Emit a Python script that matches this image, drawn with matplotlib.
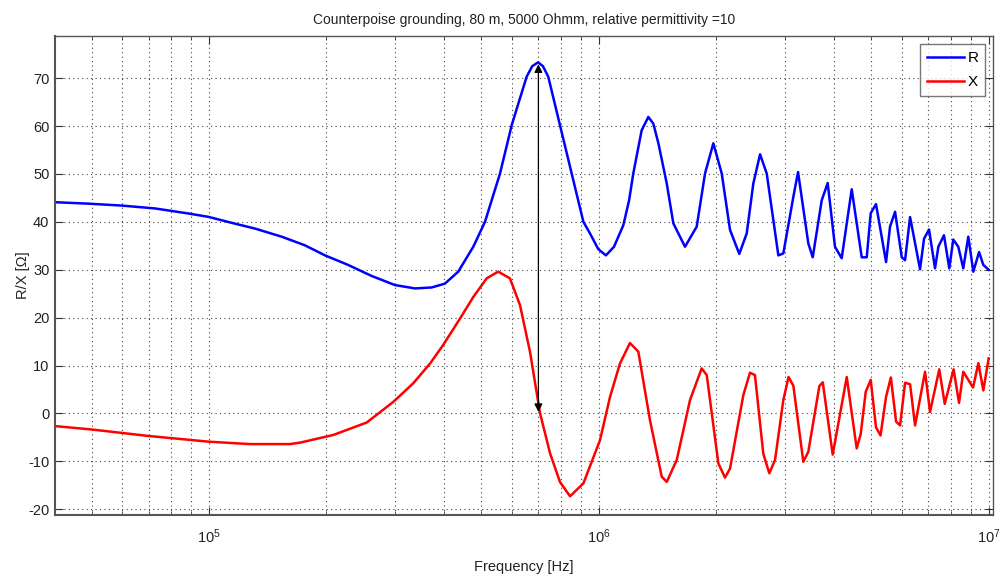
import matplotlib
matplotlib.use("Agg")
import matplotlib.pyplot as plt
from matplotlib.ticker import LogLocator, NullFormatter

plt.rcParams['font.family'] = ['Liberation Sans', 'DejaVu Sans']
plt.rcParams['axes.unicode_minus'] = False

# ---- data ----
r_freq = [4.03e4, 4.90e4, 5.97e4, 7.27e4, 8.85e4, 9.96e4, 1.143e5, 1.312e5, 1.537e5, 1.763e5,
          1.985e5, 2.276e5, 2.615e5, 3.0e5, 3.377e5, 3.727e5, 4.03e5, 4.36e5, 4.765e5, 5.106e5,
          5.58e5, 5.98e5, 6.53e5, 6.75e5, 6.99e5, 7.19e5, 7.42e5, 7.95e5, 8.52e5,
          9.13e5, 9.49e5, 9.97e5, 1.043e6, 1.094e6, 1.156e6, 1.196e6, 1.226e6, 1.288e6, 1.34e6,
          1.38e6, 1.422e6, 1.494e6,
          1.553e6, 1.664e6, 1.783e6, 1.873e6, 1.967e6, 2.067e6, 2.171e6, 2.293e6, 2.396e6, 2.491e6,
          2.592e6, 2.696e6, 2.888e6, 2.974e6, 3.155e6, 3.244e6, 3.447e6, 3.538e6, 3.731e6, 3.865e6,
          4.035e6, 4.198e6, 4.454e6, 4.725e6, 4.867e6, 4.983e6, 5.141e6, 5.456e6, 5.585e6, 5.754e6,
          5.986e6, 6.104e6, 6.287e6, 6.668e6, 6.828e6, 7.032e6, 7.285e6, 7.43e6, 7.68e6, 7.925e6,
          8.114e6, 8.358e6, 8.609e6, 8.867e6, 9.134e6, 9.45e6, 9.69e6, 1.0e7]
r_vals = [44.1, 43.8, 43.4, 42.8, 41.75, 41.05, 39.8, 38.6, 36.9, 35.1,
          33.0, 31.0, 28.7, 26.8, 26.1, 26.3, 27.1, 29.6, 34.8, 40.0,
          50.1, 60.2, 70.3, 72.5, 73.3, 72.5, 70.3, 60.2, 50.1,
          40.0, 37.6, 34.3, 33.0, 34.8, 39.3, 44.5, 50.1, 59.1, 61.9,
          60.5, 56.4, 48.0,
          39.7, 34.8, 39.0, 50.1, 56.4, 50.1, 38.3, 33.3, 37.6, 48.0,
          54.1, 50.1, 33.0, 33.4, 45.2, 50.4, 35.5, 32.6, 44.5, 48.1,
          34.8, 32.4, 46.8, 32.6, 32.6, 41.8, 43.7, 31.6, 39.0, 42.1,
          32.6, 32.0, 41.0, 30.1, 36.5, 38.4, 30.3, 34.8, 37.2, 30.3,
          36.3, 34.8, 30.3, 36.9, 29.6, 33.7, 31.0, 30.0]

x_freq = [4.03e4, 5.0e4, 6.99e4, 1.0e5, 1.274e5, 1.614e5, 1.712e5, 2.084e5, 2.539e5, 2.97e5,
          3.343e5, 3.69e5, 3.99e5, 4.405e5, 4.765e5, 5.157e5, 5.52e5, 5.917e5, 6.28e5, 6.66e5,
          7.07e5, 7.50e5, 7.95e5, 8.44e5, 9.13e5, 1.007e6, 1.069e6, 1.133e6, 1.202e6, 1.263e6,
          1.353e6, 1.45e6, 1.494e6, 1.585e6, 1.714e6, 1.836e6, 1.892e6, 2.026e6, 2.107e6, 2.171e6,
          2.348e6, 2.442e6, 2.515e6, 2.642e6, 2.738e6, 2.832e6, 2.974e6, 3.067e6, 3.155e6, 3.347e6,
          3.447e6, 3.679e6, 3.754e6, 3.981e6, 4.325e6, 4.587e6, 4.697e6, 4.838e6, 4.983e6, 5.141e6,
          5.28e6, 5.456e6, 5.613e6, 5.788e6, 5.927e6, 6.104e6, 6.287e6, 6.475e6, 6.868e6, 7.074e6,
          7.47e6, 7.715e6, 8.13e6, 8.395e6, 8.609e6, 9.12e6, 9.41e6, 9.69e6, 1.0e7]
x_vals = [-2.65, -3.35, -4.7, -5.9, -6.4, -6.4, -6.1, -4.5, -1.9, 2.4,
          6.3, 10.4, 14.3, 19.8, 24.3, 28.2, 29.6, 28.2, 22.6, 12.9,
          0.0, -8.35, -14.3, -17.3, -14.6, -5.6, 3.5, 10.4, 14.7, 12.9,
          -1.4, -13.2, -14.3, -9.7, 2.8, 9.4, 8.0, -10.4, -13.4, -11.5,
          3.8, 8.5, 8.0, -8.4, -12.5, -9.7, 2.8, 7.6, 5.8, -10.1,
          -8.0, 5.7, 6.5, -8.6, 7.6, -7.3, -4.3, 4.5, 7.0, -2.9,
          -4.6, 3.5, 7.5, -1.7, -2.5, 6.4, 6.1, -2.5, 8.7, 0.3,
          9.2, 2.0, 9.2, 2.2, 8.7, 5.4, 10.5, 4.8, 11.5]

arrow_freq = 7.0e5
arrow_top = 72.9
arrow_bottom = 0.3

title = "Counterpoise grounding, 80 m, 5000 Ohmm, relative permittivity =10"
xlabel = "Frequency [Hz]"
ylabel = "R/X [\u03a9]"
yticks = [-20, -10, 0, 10, 20, 30, 40, 50, 60, 70]

fig = plt.figure(figsize=(9.99, 5.77), dpi=100)
ax = fig.add_axes([0.0551, 0.1075, 0.9384, 0.8301])

ax.plot(r_freq, r_vals, color=(0, 0, 1), lw=1.8, label='R')
ax.plot(x_freq, x_vals, color=(1, 0, 0), lw=1.8, label='X')

ax.annotate('', xy=(arrow_freq, arrow_top), xytext=(arrow_freq, arrow_bottom),
            arrowprops=dict(arrowstyle='<|-|>', color='black', lw=0.9,
                            mutation_scale=12, shrinkA=0, shrinkB=0))

ax.set_xscale('log')
ax.set_xlim(4.03e4, 1.023e7)
ax.set_ylim(-21.2, 78.8)
ax.set_yticks(yticks)
ax.xaxis.set_major_locator(LogLocator(base=10, numticks=10))
ax.xaxis.set_minor_locator(LogLocator(base=10, subs=range(2, 10), numticks=50))
ax.xaxis.set_minor_formatter(NullFormatter())

grid_style = dict(linestyle=(0, (1, 3)), color='#444444', lw=0.8)
ax.grid(True, which='major', **grid_style)
ax.grid(True, which='minor', axis='x', **grid_style)

ax.tick_params(which='both', direction='in', top=True, right=True, colors='#333333',
               labelsize=10.5, labelcolor='#222222')
ax.tick_params(which='major', length=6)
ax.tick_params(which='minor', length=3)
ax.tick_params(axis='x', which='major', pad=9)
ax.tick_params(axis='y', which='major', pad=4)
for name, s in ax.spines.items():
    s.set_color('#555555')
    s.set_linewidth(1.5 if name in ('left', 'bottom') else 1.0)

ax.set_title(title, fontsize=10, color='#222222', pad=9)
ax.set_xlabel(xlabel, fontsize=10.5, color='#222222', labelpad=10)
ax.set_ylabel(ylabel, fontsize=10.5, color='#222222', labelpad=-1)

leg = ax.legend(loc='upper right', bbox_to_anchor=(0.9925, 0.983), fontsize=11,
                fancybox=False, edgecolor='#555555', handlelength=2.4,
                borderpad=0.45, labelspacing=0.65, handletextpad=0.25, borderaxespad=0)
leg.get_frame().set_linewidth(1.0)

fig.savefig('out.png', dpi=100)
